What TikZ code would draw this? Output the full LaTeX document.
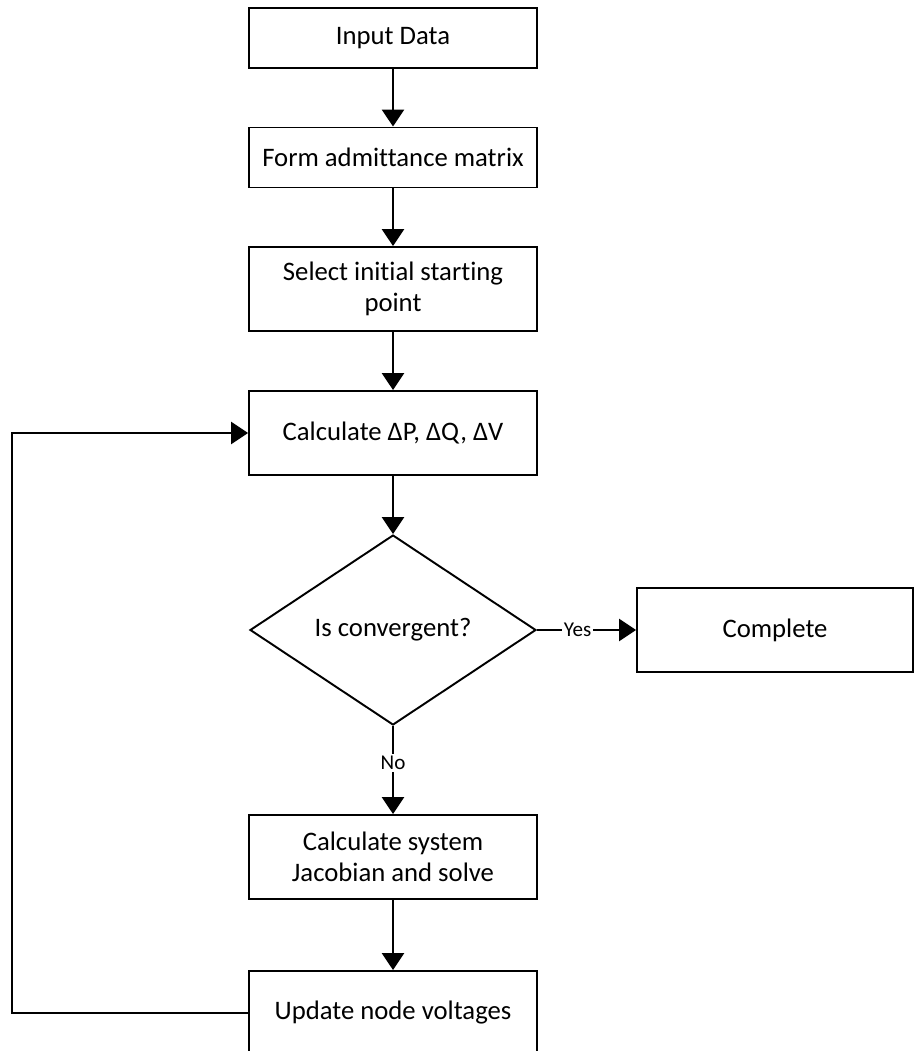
\documentclass[tikz,border=0pt]{standalone}
\usepackage{fontspec}
\setmainfont{Carlito}[Ligatures=NoCommon]
\usepackage{tikz}
\usetikzlibrary{positioning}
\usetikzlibrary{shapes.geometric}
\usetikzlibrary{arrows.meta}
\newcommand\boxwide{5.76cm}
\newcommand\boxlow{1.2cm}
\newcommand\boxtall{1.68cm}
\newcommand\midx{393}
\tikzset{
    stepbox/.style = {draw, line width=1.1pt, minimum width=\boxwide, minimum height=\boxtall,
                      align=center, inner sep=2pt, font=\fontsize{15.2}{18}\selectfont},
    decide/.style = {draw, diamond, line width=1.1pt, minimum width=5.72cm, minimum height=3.8cm,
                     inner sep=0pt, font=\fontsize{15.2}{18}\selectfont},
    flow/.style = {line width=1.5pt, -{Triangle[length=0.34cm,width=0.44cm]}},
    lbl/.style = {fill=white, inner sep=1pt, font=\fontsize{12}{14}\selectfont},
}

\begin{document}
\begin{tikzpicture}[x=0.02cm, y=-0.02cm]
         \useasboundingbox (0,0) rectangle (915,1051);
         % --- Steps down the middle
         \node[stepbox, minimum height=\boxlow] (input) at (\midx,38) {Input Data};
         \node[stepbox, minimum height=\boxlow] (admit) at (\midx,157.5) {Form admittance matrix};
         \node[stepbox] (start) at (\midx,289) {Select initial starting\\point};
         \node[stepbox] (mismatch) at (\midx,433) {Calculate ΔP, ΔQ, ΔV};
         \node[decide] (conv) at (\midx,630) {Is convergent?};
         \node[stepbox, minimum width=5.52cm] (complete) at (775,630) {Complete};
         \node[stepbox] (jacob) at (\midx,857) {Calculate system\\Jacobian and solve};
         \node[stepbox] (update) at (\midx,1013) {Update node voltages};
         \coordinate (back) at (12,0);
         % --- Arrows
         \draw[flow] (input) -- (admit);
         \draw[flow] (admit) -- (start);
         \draw[flow] (start) -- (mismatch);
         \draw[flow] (mismatch) -- (conv);
         \draw[flow] (conv.east) -- node[lbl, pos=0.41] {Yes} (complete.west);
         \draw[flow] (conv.south) -- node[lbl, pos=0.42] {No} (jacob.north);
         \draw[flow] (jacob) -- (update);
         % --- Loop back
         \draw[flow] (update.west) -- (update.west -| back) |- (mismatch.west);
       \end{tikzpicture}
\end{document}
